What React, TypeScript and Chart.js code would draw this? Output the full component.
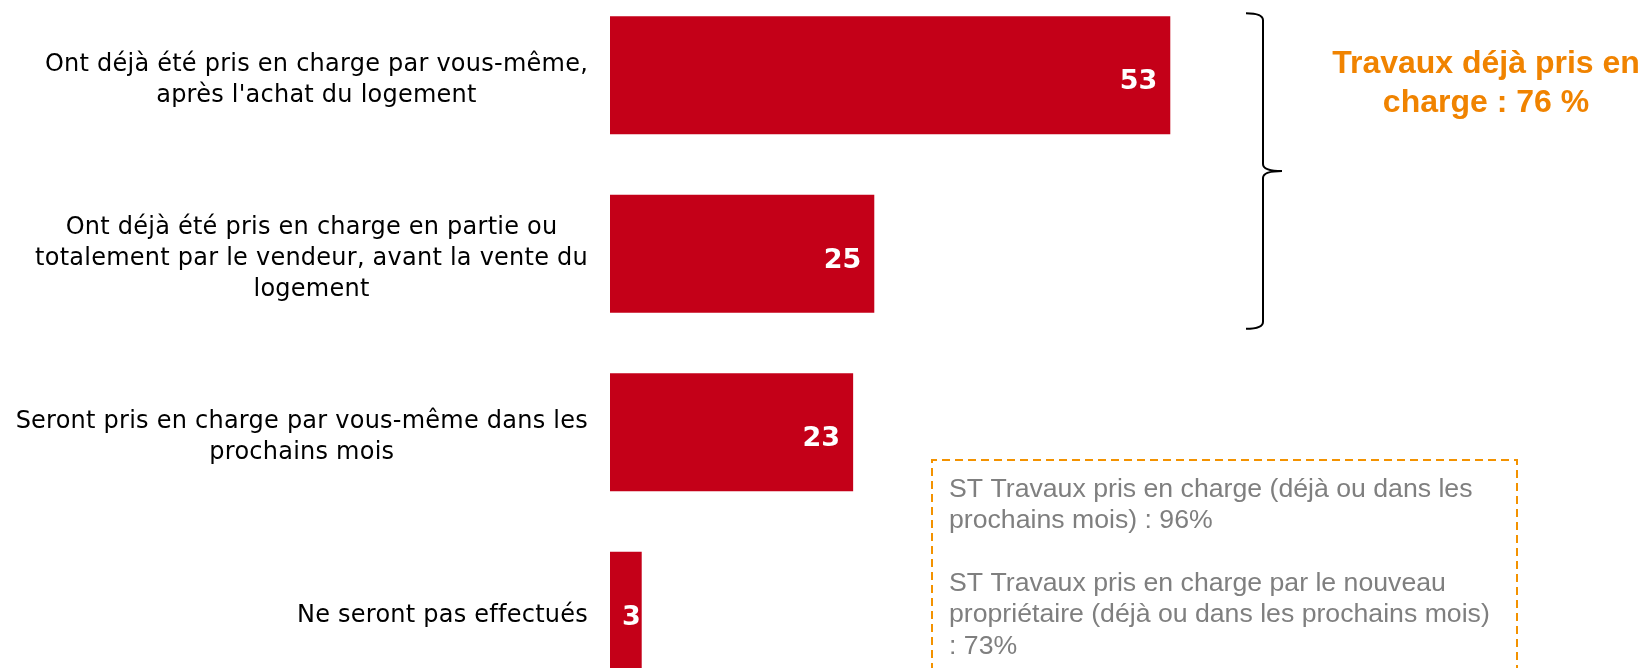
import { useEffect, useRef } from "react";
import { Chart, registerables } from "chart.js";

Chart.register(...registerables);

// ---- data ----
const categories: string[][] = [
  ["Ont déjà été pris en charge par vous-même,", "après l'achat du logement"],
  [
    "Ont déjà été pris en charge en partie ou",
    "totalement par le vendeur, avant la vente du",
    "logement",
  ],
  ["Seront pris en charge par vous-même dans les", "prochains mois"],
  ["Ne seront pas effectués"],
];
const values: number[] = [53, 25, 23, 3];
const braceTitle: string[] = ["Travaux déjà pris en", "charge : 76 %"];
const noteLines: string[] = [
  "ST Travaux pris en charge (déjà ou dans les",
  "prochains mois) : 96%",
  "",
  "ST Travaux pris en charge par le nouveau",
  "propriétaire (déjà ou dans les prochains mois)",
  ": 73%",
];

// ---- styles ----
const BAR_COLOR = "#C40018";
const ORANGE = "#F08300";
const BOX_ORANGE = "#F39200";
const NOTE_GREY = "#7F7F7F";
const SHIFT = 14; // canvas is shifted up by this many px
const CANVAS_W = 1646;
const CANVAS_H = 714;

const overlayPlugin = {
  id: "overlay",
  afterDatasetsDraw(chart: any) {
    const ctx: any = chart.ctx;
    const yScale = chart.scales.y;
    const meta = chart.getDatasetMeta(0);
    const py = (v: number) => v + SHIFT;
    ctx.save();

    // category labels: block right-aligned, lines centred
    ctx.font = "24px 'DejaVu Sans'";
    ctx.letterSpacing = "0.24px";
    ctx.fillStyle = "#000000";
    ctx.textAlign = "center";
    ctx.textBaseline = "middle";
    categories.forEach((lines, i) => {
      const cy = yScale.getPixelForValue(i) + 5;
      const maxW = Math.max(...lines.map((l) => ctx.measureText(l).width));
      const cx = chart.chartArea.left - 22 - maxW / 2;
      lines.forEach((l, j) => {
        ctx.fillText(l, cx, cy + (j - (lines.length - 1) / 2) * 31);
      });
    });
    ctx.letterSpacing = "0px";

    // value labels inside bar ends
    ctx.font = "bold 27px 'DejaVu Sans'";
    ctx.fillStyle = "#FFFFFF";
    ctx.textAlign = "right";
    ctx.textBaseline = "middle";
    meta.data.forEach((bar: any, i: number) => {
      const txt = String(values[i]);
      const w = ctx.measureText(txt).width;
      const p = bar.getProps(["x", "y", "base"], true);
      const barW = p.x - p.base;
      const pad = w + 26 <= barW ? 13 : 1;
      ctx.fillText(txt, p.x - pad, p.y + 7);
    });

    // brace spanning the first two bars
    const top = yScale.getPixelForValue(0) - 62;
    const bot = yScale.getPixelForValue(1) + 75;
    const mid = (top + bot) / 2;
    const bx = 1263;
    const endX = 1246;
    const tipX = 1282;
    const r = 7;
    ctx.strokeStyle = "#000000";
    ctx.lineWidth = 2;
    ctx.setLineDash([]);
    ctx.beginPath();
    ctx.moveTo(endX, top);
    ctx.quadraticCurveTo(bx, top, bx, top + r);
    ctx.lineTo(bx, mid - r);
    ctx.quadraticCurveTo(bx, mid, tipX, mid);
    ctx.moveTo(tipX, mid);
    ctx.quadraticCurveTo(bx, mid, bx, mid + r);
    ctx.lineTo(bx, bot - r);
    ctx.quadraticCurveTo(bx, bot, endX, bot);
    ctx.stroke();

    // orange brace title
    ctx.font = "bold 32px 'Liberation Sans'";
    ctx.fillStyle = ORANGE;
    ctx.textAlign = "center";
    ctx.textBaseline = "alphabetic";
    braceTitle.forEach((l, j) => ctx.fillText(l, 1486, py(73 + j * 39)));

    // dashed note box
    ctx.strokeStyle = BOX_ORANGE;
    ctx.lineWidth = 2;
    ctx.setLineDash([8, 5]);
    ctx.beginPath();
    ctx.moveTo(932, CANVAS_H + 10);
    ctx.lineTo(932, py(460));
    ctx.lineTo(1517, py(460));
    ctx.lineTo(1517, CANVAS_H + 10);
    ctx.stroke();
    ctx.setLineDash([]);

    // note text
    ctx.font = "26.67px 'Liberation Sans'";
    ctx.fillStyle = NOTE_GREY;
    ctx.textAlign = "left";
    ctx.textBaseline = "alphabetic";
    noteLines.forEach((l, j) => {
      if (l) ctx.fillText(l, 949, py(497 + j * 31.3));
    });

    ctx.restore();
  },
};

export default function App() {
  const canvasRef = useRef<HTMLCanvasElement | null>(null);

  useEffect(() => {
    if (!canvasRef.current) return;
    const chart = new Chart(canvasRef.current, {
      type: "bar",
      data: {
        labels: categories.map((c) => c.join(" ")),
        datasets: [
          {
            data: values,
            backgroundColor: BAR_COLOR,
            borderWidth: 0,
            barPercentage: 0.66,
            categoryPercentage: 1,
          },
        ],
      },
      options: {
        indexAxis: "y",
        animation: false,
        responsive: false,
        maintainAspectRatio: false,
        devicePixelRatio: 1,
        layout: { padding: 0 },
        plugins: {
          legend: { display: false },
          tooltip: { enabled: false },
          title: { display: false },
        },
        scales: {
          x: {
            display: false,
            min: 0,
            max: 98,
          },
          y: {
            display: true,
            grid: { display: false },
            border: { display: false },
            ticks: { display: false },
            afterFit: (scale: any) => {
              scale.width = 610;
            },
          },
        },
      },
      plugins: [overlayPlugin],
    });
    return () => chart.destroy();
  }, []);

  return (
    <div
      style={{
        position: "fixed",
        left: 0,
        top: 0,
        width: CANVAS_W,
        height: 668,
        overflow: "hidden",
        background: "#ffffff",
      }}
    >
      <canvas
        ref={canvasRef}
        width={CANVAS_W}
        height={CANVAS_H}
        style={{
          position: "absolute",
          left: 0,
          top: -SHIFT,
          width: CANVAS_W,
          height: CANVAS_H,
        }}
      />
    </div>
  );
}
